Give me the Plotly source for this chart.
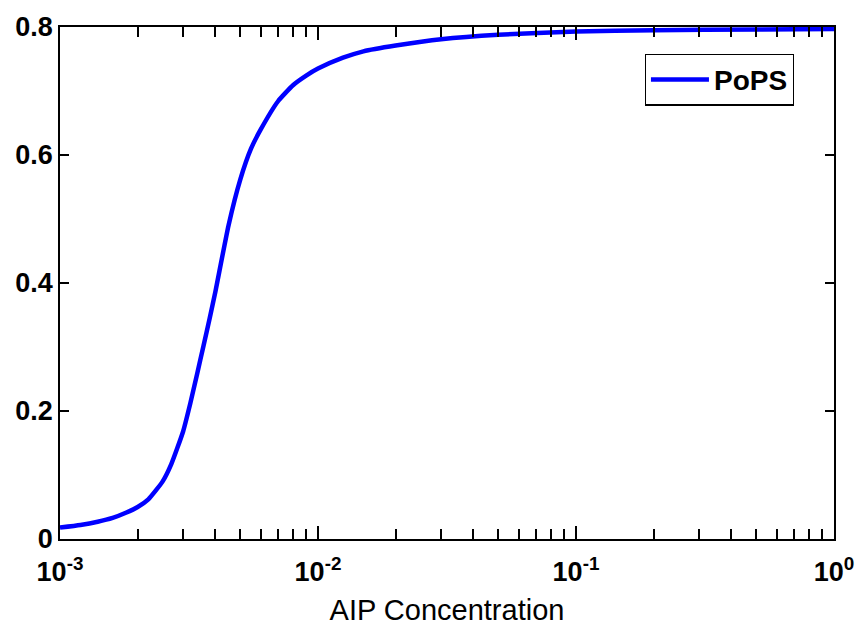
import plotly.graph_objects as go

aip_conc = [0.001, 0.0012, 0.0014, 0.0016, 0.0018, 0.002, 0.0022, 0.0025, 0.0027,
            0.003, 0.0032, 0.0034, 0.0036, 0.0038, 0.004, 0.0045, 0.005, 0.0055,
            0.006, 0.007, 0.008, 0.009, 0.01, 0.0125, 0.015, 0.02, 0.03, 0.05,
            0.1, 0.2, 0.5, 1.0]
pops = [0.018, 0.022, 0.027, 0.033, 0.041, 0.050, 0.062, 0.090, 0.117,
        0.168, 0.212, 0.258, 0.302, 0.344, 0.386, 0.490, 0.562, 0.610,
        0.640, 0.684, 0.709, 0.724, 0.735, 0.752, 0.762, 0.771, 0.781, 0.788,
        0.793, 0.795, 0.796, 0.797]

x_tickvals = [0.001, 0.01, 0.1, 1]
x_ticktext = ["10<sup>-3</sup>", "10<sup>-2</sup>", "10<sup>-1</sup>", "10<sup>0</sup>"]
x_minor_ticks = [m * d for d in (0.001, 0.01, 0.1) for m in range(2, 10)]
y_tickvals = [0, 0.2, 0.4, 0.6, 0.8]
y_ticktext = ["0", "0.2", "0.4", "0.6", "0.8"]

fig = go.Figure()
fig.add_trace(go.Scatter(
    x=aip_conc, y=pops, mode="lines", name="PoPS",
    line=dict(color="#0000FF", width=4.5, shape="spline", smoothing=0.5),
))
# invisible helper trace on the label axis
fig.add_trace(go.Scatter(
    x=aip_conc, y=pops, mode="lines", xaxis="x2", opacity=0,
    showlegend=False, hoverinfo="skip", line=dict(width=0),
))

tickfont = dict(family="Liberation Sans, Arial", size=27, color="black", weight="bold")

fig.update_layout(
    width=866, height=637,
    margin=dict(l=60, r=26, t=23, b=98),
    paper_bgcolor="white", plot_bgcolor="white",
    showlegend=True,
    legend=dict(
        x=0.948, y=0.948, xanchor="right", yanchor="top",
        bgcolor="white", bordercolor="black", borderwidth=1.2,
        font=dict(family="Liberation Sans, Arial", size=28, color="black", weight="bold"),
        itemwidth=58,
    ),
    # tick marks (major + minor), mirrored on top
    xaxis=dict(
        type="log", range=[-3, 0],
        tickmode="array", tickvals=x_tickvals, showticklabels=False,
        ticks="inside", ticklen=13, tickwidth=1.5, tickcolor="black",
        minor=dict(tickmode="array", tickvals=x_minor_ticks,
                   ticks="inside", ticklen=10, tickwidth=1.5, tickcolor="black"),
        showline=True, linecolor="black", linewidth=1.5, mirror="ticks",
        showgrid=False, zeroline=False,
    ),
    # tick labels and title
    xaxis2=dict(
        type="log", range=[-3, 0], overlaying="x", anchor="y", side="bottom",
        tickmode="array", tickvals=x_tickvals, ticktext=x_ticktext,
        ticks="", showline=False, showgrid=False, zeroline=False,
        tickfont=tickfont, ticklabelstandoff=14,
        title=dict(text="AIP Concentration",
                   font=dict(family="Liberation Sans, Arial", size=29, color="black"),
                   standoff=13),
    ),
    yaxis=dict(
        range=[0, 0.8],
        tickvals=y_tickvals, ticktext=y_ticktext,
        ticks="inside", ticklen=9, tickwidth=1.5, tickcolor="black",
        showline=True, linecolor="black", linewidth=1.5, mirror="ticks",
        showgrid=False, zeroline=False,
        tickfont=tickfont,
    ),
)

fig.write_html("out.html")
